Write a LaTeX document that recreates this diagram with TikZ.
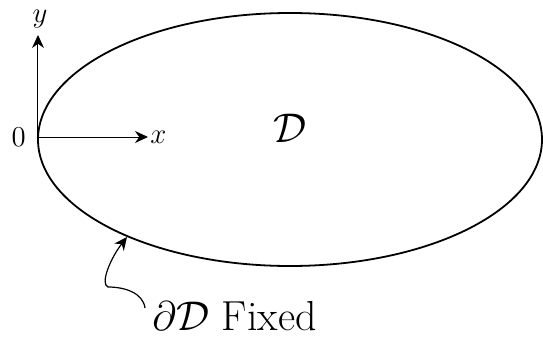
\documentclass[tikz,border=0pt]{standalone}
\usepackage{amsmath,amssymb}
\usepackage{tikz}
\usetikzlibrary{arrows.meta}
\usetikzlibrary{calc}

\begin{document}
\begin{tikzpicture}[
    x=0.5pt, y=0.5pt,
    axis/.style={-{Stealth[length=6.5pt,width=6pt]}, line width=0.5pt},
    pointer/.style={-{Stealth[length=6.5pt,width=6pt]}, line width=0.6pt},
    region/.style={line width=0.9pt},
    axlabel/.style={inner sep=1pt, font=\fontsize{15.5}{19}\selectfont},
    biglabel/.style={inner sep=0pt, font=\fontsize{21}{25}\selectfont}
]
\useasboundingbox (0,0) rectangle (543,339);

% Domain
\draw[region] (290,199.5) ellipse [x radius=252, y radius=126.5];
\node[biglabel] (dom) at (290,211) {$\mathcal{D}$};

% Axes
\coordinate (o) at (38,202);
\coordinate (xtip) at (148,202);
\coordinate (ytip) at (38,304);
\draw[axis] (o) -- (xtip);
\draw[axis] (o) -- (ytip);
\node[axlabel, anchor=east] (zero) at (28,202) {$0$};
\node[axlabel, anchor=west] (xlab) at (xtip) {$x$};
\node[axlabel] (ylab) at (40,320) {$y$};

% Boundary label
\node[biglabel, anchor=base west] (bnd) at (152,9) {$\partial\mathcal{D}$ Fixed};
\coordinate (start) at (145,31);
\coordinate (onedge) at (127,102);
\draw[pointer] (start) .. controls (143,46) and (125,52) .. (108,52)
    .. controls (100,55) and (110,80) .. (onedge);
\end{tikzpicture}
\end{document}
